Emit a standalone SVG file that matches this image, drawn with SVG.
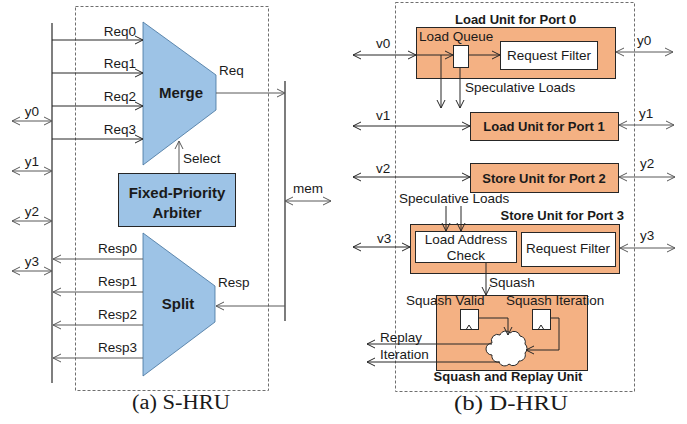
<svg xmlns="http://www.w3.org/2000/svg" width="687" height="424" viewBox="0 0 687 424">
<defs>
<marker id="ah" markerUnits="userSpaceOnUse" markerWidth="10" markerHeight="10" refX="8" refY="4" orient="auto-start-reverse" viewBox="0 0 10 8"><path d="M0,0 L8,4 L0,8" fill="none" stroke="#262626" stroke-width="1"/></marker>
<marker id="ag" markerUnits="userSpaceOnUse" markerWidth="10" markerHeight="10" refX="8" refY="4" orient="auto-start-reverse" viewBox="0 0 10 8"><path d="M0,0 L8,4 L0,8" fill="none" stroke="#595959" stroke-width="1"/></marker>
</defs>
<style>
text{font-family:"Liberation Sans",Arial,sans-serif;font-size:13.5px;fill:#1a1a1a}
.b{font-weight:bold;font-size:13px}
.cap{font-family:"Liberation Serif","Times New Roman",serif;font-size:20px;fill:#1a1a1a}
.mid{text-anchor:middle}
.end{text-anchor:end}
.dash{fill:none;stroke:#6f6f6f;stroke-width:1;stroke-dasharray:3,2}
.w{fill:none;stroke:#262626;stroke-width:1}
.g{fill:none;stroke:#595959;stroke-width:1}
.ad{marker-end:url(#ah)}
.add{marker-start:url(#ah);marker-end:url(#ah)}
.agd{marker-end:url(#ag)}
.agg{marker-start:url(#ag);marker-end:url(#ag)}
.blue{fill:#9DC3E6;stroke:#41719C;stroke-width:0.8}
.org{fill:#F4B183;stroke:#262626;stroke-width:1}
.wb{fill:#fff;stroke:#262626;stroke-width:1}
</style>
<!-- Panel (a) -->
<rect class="dash" x="75.5" y="6.5" width="193" height="384"/>
<g id="bus-y">
<line x1="52" y1="23" x2="52" y2="383" stroke="#7f7f7f" stroke-width="2"/>
</g>
<g id="bus-mem">
<line x1="285" y1="81" x2="285" y2="321" stroke="#262626" stroke-width="1.2"/>
</g>
<g id="merge">
<polygon class="blue" points="143,22 216,75 216,110 143,165"/>
<text class="b mid" x="181" y="98" style="font-size:15px">Merge</text>
</g>
<g id="arbiter">
<rect x="118.5" y="173.5" width="117" height="53" fill="#9DC3E6" stroke="#262626" stroke-width="1"/>
<text class="b mid" x="177" y="198" style="font-size:15px">Fixed-Priority</text>
<text class="b mid" x="177" y="218" style="font-size:15px">Arbiter</text>
</g>
<g id="split">
<polygon class="blue" points="143,233 215,286 215,322 143,376"/>
<text class="b mid" x="178" y="309" style="font-size:15px">Split</text>
</g>
<g id="connectors-a">
<line class="g agg" x1="12" y1="121" x2="52" y2="121"/>
<line class="g agg" x1="12" y1="171" x2="52" y2="171"/>
<line class="g agg" x1="12" y1="221" x2="52" y2="221"/>
<line class="g agg" x1="12" y1="271" x2="52" y2="271"/>
<line class="w ad" x1="52" y1="40" x2="143" y2="40"/>
<line class="w ad" x1="52" y1="73" x2="143" y2="73"/>
<line class="w ad" x1="52" y1="106" x2="143" y2="106"/>
<line class="w ad" x1="52" y1="139" x2="143" y2="139"/>
<line class="g agd" x1="143" y1="259" x2="53" y2="259"/>
<line class="g agd" x1="143" y1="292" x2="53" y2="292"/>
<line class="g agd" x1="143" y1="325" x2="53" y2="325"/>
<line class="g agd" x1="143" y1="358" x2="53" y2="358"/>
<line class="g agd" x1="216" y1="93" x2="285" y2="93"/>
<line class="g agd" x1="285" y1="306" x2="216" y2="306"/>
<line class="g agd" x1="179" y1="173" x2="179" y2="141"/>
<line class="g agg" x1="285" y1="201" x2="331" y2="201"/>
</g>
<g id="labels-a">
<text class="mid" x="32" y="116">y0</text>
<text class="mid" x="32" y="166">y1</text>
<text class="mid" x="32" y="216">y2</text>
<text class="mid" x="32" y="266">y3</text>
<text class="end" x="136" y="36">Req0</text>
<text class="end" x="136" y="68">Req1</text>
<text class="end" x="136" y="101">Req2</text>
<text class="end" x="136" y="134">Req3</text>
<text class="end" x="137" y="253">Resp0</text>
<text class="end" x="137" y="286">Resp1</text>
<text class="end" x="137" y="319">Resp2</text>
<text class="end" x="137" y="352">Resp3</text>
<text x="219" y="75">Req</text>
<text x="218" y="287">Resp</text>
<text x="183" y="163">Select</text>
<text x="293" y="193">mem</text>
</g>
<text class="cap mid" x="181" y="409" textLength="98" lengthAdjust="spacingAndGlyphs">(a) S-HRU</text>
<!-- Panel (b) -->
<rect class="dash" x="395.5" y="2.5" width="239" height="389"/>
<g id="load-unit-0">
<text class="b" x="455" y="24">Load Unit for Port 0</text>
<rect class="org" x="416.5" y="27.5" width="199" height="51"/>
<text x="419" y="41">Load Queue</text>
<rect class="wb" x="453.5" y="45.5" width="15" height="22"/>
<rect class="wb" x="500.5" y="41.5" width="97" height="28"/>
<text class="mid" x="549" y="60">Request Filter</text>
</g>
<g id="load-unit-1">
<rect class="org" x="470.5" y="112.5" width="148" height="28"/>
<text class="b mid" x="544" y="131">Load Unit for Port 1</text>
</g>
<g id="store-unit-2">
<rect class="org" x="470.5" y="163.5" width="148" height="29"/>
<text class="b mid" x="544" y="183">Store Unit for Port 2</text>
</g>
<g id="store-unit-3">
<text class="b end" x="624" y="220">Store Unit for Port 3</text>
<rect class="org" x="410.5" y="224.5" width="209" height="49"/>
<rect class="wb" x="415.5" y="231.5" width="101" height="31"/>
<text class="mid" x="466" y="244">Load Address</text>
<text class="mid" x="466" y="260">Check</text>
<rect class="wb" x="521.5" y="232.5" width="94" height="34"/>
<text class="mid" x="568" y="253">Request Filter</text>
</g>
<g id="squash-replay">
<rect class="org" x="436.5" y="295.5" width="151" height="75"/>
<rect class="wb" x="460.5" y="309.5" width="18" height="20"/>
<polyline class="w" points="466.5,329 469,325 471.5,329"/>
<rect class="wb" x="532.5" y="309.5" width="18" height="20"/>
<polyline class="w" points="538.5,329 541,325 543.5,329"/>
<path d="M492,343 a6,6 0 0,1 8,-8 a6,6 0 0,1 10,-2 a6,6 0 0,1 10,3 a6,6 0 0,1 5,8 a6,6 0 0,1 0,9 a6,6 0 0,1 -6,8 a6,6 0 0,1 -10,3 a6,6 0 0,1 -10,-2 a6,6 0 0,1 -7,-7 a6,6 0 0,1 0,-12 z" fill="#fff" stroke="#262626" stroke-width="1"/>
<text class="b mid" x="508" y="381">Squash and Replay Unit</text>
</g>
<g id="connectors-b">
<line class="w add" x1="353" y1="55" x2="416" y2="55"/>
<line class="w ad" x1="416" y1="55" x2="453" y2="55"/>
<line class="w ad" x1="468" y1="55" x2="500" y2="55"/>
<line class="w ad" x1="441" y1="55" x2="441" y2="108"/>
<line class="w ad" x1="460" y1="67" x2="460" y2="108"/>
<line class="g agg" x1="616" y1="52" x2="673" y2="52"/>
<line class="w add" x1="353" y1="126" x2="470" y2="126"/>
<line class="g agg" x1="619" y1="125" x2="674" y2="125"/>
<line class="w add" x1="353" y1="177" x2="470" y2="177"/>
<line class="g agg" x1="619" y1="177" x2="675" y2="177"/>
<line class="w add" x1="353" y1="247" x2="410" y2="247"/>
<line class="g agg" x1="620" y1="248" x2="675" y2="248"/>
<line class="w ad" x1="446" y1="206" x2="446" y2="231"/>
<line class="w ad" x1="461" y1="206" x2="461" y2="231"/>
<line class="w ad" x1="486" y1="263" x2="486" y2="295"/>
<polyline class="w ad" points="478,318 508,318 508,335"/>
<polyline class="w ad" points="550,318 559,318 559,350 526,350"/>
<line class="w ad" x1="492" y1="344" x2="367" y2="344"/>
<line class="w ad" x1="500" y1="362" x2="367" y2="362"/>
</g>
<g id="labels-b">
<text x="376" y="48">v0</text>
<text x="637" y="45">y0</text>
<text x="465" y="92">Speculative Loads</text>
<text x="376" y="120">v1</text>
<text x="639" y="118">y1</text>
<text x="376" y="173">v2</text>
<text x="640" y="168">y2</text>
<text x="399" y="203">Speculative Loads</text>
<text x="377" y="243">v3</text>
<text x="640" y="240">y3</text>
<text x="489" y="287">Squash</text>
<text x="406" y="305">Squash Valid</text>
<text x="506" y="305">Squash Iteration</text>
<text x="380" y="342">Replay</text>
<text x="380" y="359">Iteration</text>
</g>
<text class="cap mid" x="511" y="410" textLength="114" lengthAdjust="spacingAndGlyphs">(b) D-HRU</text>
</svg>
